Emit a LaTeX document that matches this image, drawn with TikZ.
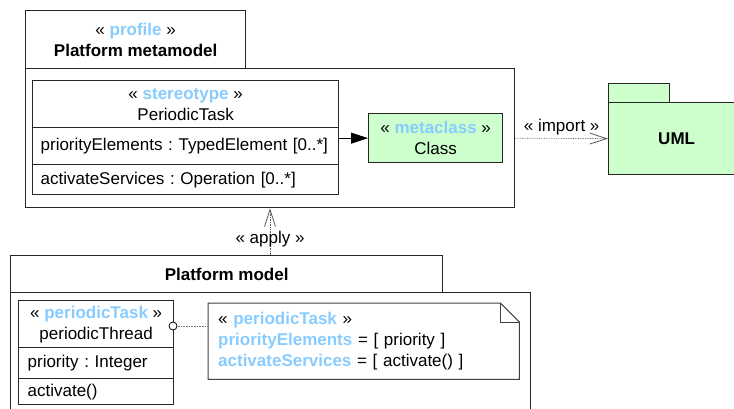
\documentclass[tikz,border=0pt]{standalone}
\usepackage{fontspec}
\setmainfont{Liberation Sans}
\usetikzlibrary{arrows.meta}
\definecolor{stereoblue}{RGB}{136,204,255}
\definecolor{metagreen}{RGB}{204,255,204}
\newcommand{\stereo}[1]{«~\textcolor{stereoblue}{\textbf{#1}}~»}

\begin{document}
\begin{tikzpicture}[x=1pt,y=-1pt,
		font=\fontsize{17}{21}\selectfont\frenchspacing,
		box/.style={draw=black!85, line width=1.3pt, rectangle, inner sep=0pt, anchor=north west, align=center},
		compart/.style={box, align=left, inner xsep=8pt},
		greenbox/.style={box, fill=metagreen},
		dep/.style={draw=black!65, densely dotted, line width=0.7pt, -{Straight Barb[length=17pt,width=11pt,line width=0.8pt,sep=0pt]}},
		notelink/.style={draw=black!55, densely dotted, line width=0.6pt},
		notebox/.style={draw=black!75, line width=1pt}]
				\clip (0,0) rectangle (734,409);
				\node[box, minimum width=220pt, minimum height=58pt] (proftab) at (25,10) {\stereo{profile}\\ \textbf{Platform metamodel}};
				\node[box, minimum width=489pt, minimum height=139pt] (metabody) at (25,68) {};
				\node[box, minimum width=306pt, minimum height=47pt] (pthead) at (32,80) {\stereo{stereotype}\\ PeriodicTask};
				\node[compart, text width=290pt, minimum height=37pt] (ptattr) at (32,127) {\mbox{priorityElements : TypedElement [0..*]}};
				\node[compart, text width=290pt, minimum height=30pt] (ptop) at (32,164) {\mbox{activateServices : Operation [0..*]}};
				\node[greenbox, minimum width=134pt, minimum height=49pt] (cls) at (368,113) {\stereo{metaclass}\\ Class};
				\node[greenbox, minimum width=61pt, minimum height=19pt] (umltab) at (608,83) {};
				\node[greenbox, minimum width=136pt, minimum height=72pt] (umlbody) at (608,102) {\textbf{UML}};
				\node[box, minimum width=432pt, minimum height=37pt] (modeltab) at (10,255) {\textbf{Platform model}};
				\node[box, minimum width=520pt, minimum height=150pt] (modelbody) at (10,292) {};
				\node[box, minimum width=155pt, minimum height=47pt] (thhead) at (18,300) {\stereo{periodicTask}\\ periodicThread};
				\node[compart, inner xsep=9pt, text width=137pt, minimum height=31pt] (thattr) at (18,347) {\mbox{priority : Integer}};
				\node[compart, inner xsep=9pt, text width=137pt, minimum height=26pt] (thop) at (18,378) {activate()};
				\node[anchor=north west, inner xsep=10pt, inner ysep=0pt, text width=291pt, minimum height=76pt, align=left] (note) at (208,303)
					{\stereo{periodicTask}\\ \textcolor{stereoblue}{\textbf{priorityElements}} = [ priority ]\\ \textcolor{stereoblue}{\textbf{activateServices}} = [ activate() ]};
				\draw[notebox] (note.north west) -- ([xshift=-19pt]note.north east) -- ([yshift=-19pt]note.north east) -- (note.south east) -- (note.south west) -- cycle;
				\draw[notebox] ([xshift=-19pt]note.north east) |- ([yshift=-19pt]note.north east);
				\coordinate (applyx) at (270,0);
				\coordinate (hookpt) at (173,326);
				\draw[-{Triangle[length=17pt,width=11pt]}, line width=1pt] (ptattr.east |- cls.west) -- (cls.west);
				\draw[dep] (metabody.east) -- node[above, inner sep=3pt, text=black] {« import »} (umlbody.west);
				\draw[dep] (applyx |- modeltab.north) -- node[pos=0.35, text=black] {« apply »} (applyx |- metabody.south);
				\draw[notelink] (hookpt) -- (hookpt -| note.west);
				\node[circle, draw=black, line width=0.8pt, fill=white, inner sep=0pt, minimum size=8pt] (hook) at (hookpt) {};
			\end{tikzpicture}
\end{document}
